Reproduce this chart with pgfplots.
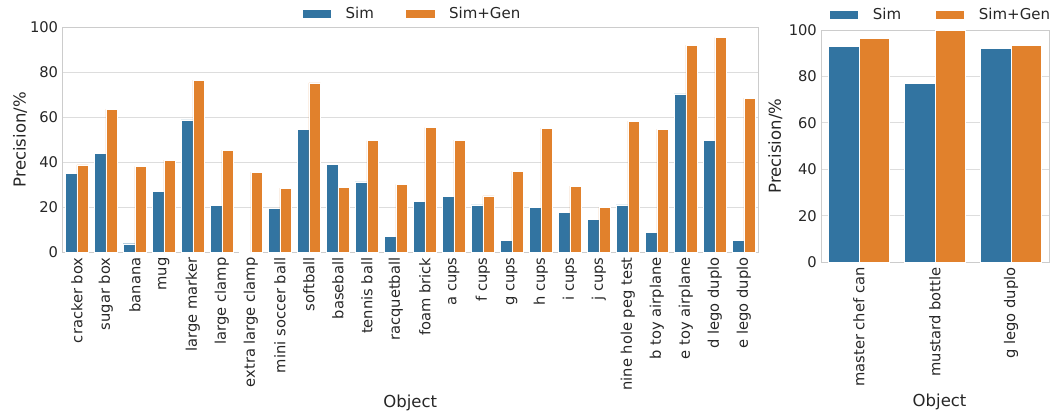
\documentclass[border=0pt]{standalone}
\usepackage{fontspec}
\setmainfont{DejaVu Sans}
\usepackage{pgfplots}
\pgfplotsset{compat=1.18}

\definecolor{simblue}{HTML}{3274A1}
\definecolor{genorange}{HTML}{E1812C}
\definecolor{gridgrey}{HTML}{DDDDDD}
\definecolor{spinegrey}{HTML}{CCCCCC}
\definecolor{textgrey}{HTML}{262626}

\newcommand{\tickfont}{\fontsize{14.7}{17}\selectfont}
\newcommand{\labfont}{\fontsize{16.5}{19}\selectfont}
\newcommand{\legfont}{\fontsize{15}{17}\selectfont}

\pgfplotsset{
  panel/.style={
    scale only axis,
    ymin=0, ymax=100,
    ytick={0,20,40,60,80,100},
    ymajorgrids,
    grid style={gridgrey, line width=0.9pt},
    axis line style={spinegrey, line width=0.9pt},
    major tick length=0pt,
    tick label style={font=\tickfont, text=textgrey},
    label style={font=\labfont, text=textgrey},
    /pgf/number format/assume math mode=true,
    yticklabel style={anchor=east, inner sep=0pt},
    yticklabel shift=4pt,
    xticklabel style={rotate=90, anchor=east, inner sep=0pt},
    xticklabel shift=5pt,
    ylabel={Precision/\%},
    xlabel={Object},
    ybar,
    bar width=0.4,
    legend columns=2,
    legend style={draw=none, fill=none, inner sep=0pt, font=\legfont, text=textgrey,
      nodes={inner sep=0pt},
      /tikz/every odd column/.append style={column sep=14pt},
      /tikz/every even column/.append style={column sep=31.5pt}},
    legend image code/.code={\fill[##1] (0pt,-4.3pt) rectangle (29.3pt,4.3pt);},
  },
  sim/.style={fill=simblue, draw=white, line width=0.4pt, bar shift=-0.2},
  gen/.style={fill=genorange, draw=white, line width=0.4pt, bar shift=0.2},
}

\begin{document}
\begin{tikzpicture}[x=1pt, y=1pt]
\useasboundingbox (0,0) rectangle (1052,415);

% Left panel: per-object precision
\begin{axis}[panel,
  at={(62.3pt,162.7pt)}, anchor=south west,
  width=696pt, height=225.3pt,
  xmin=-0.5, xmax=23.5,
  xtick={0,...,23},
  xticklabels={cracker box, sugar box, banana, mug, large marker, large clamp,
    extra large clamp, mini soccer ball, softball, baseball, tennis ball,
    racquetball, foam brick, a cups, f cups, g cups, h cups, i cups, j cups,
    nine hole peg test, b toy airplane, e toy airplane, d lego duplo, e lego duplo},
  ylabel style={at={(axis description cs:-0.0605,0.5)}, anchor=center},
  xlabel style={at={(axis description cs:0.5,-0.667)}, anchor=center},
  legend style={at={(axis description cs:0.344,1.06)}, anchor=west},
]
\addplot[sim] coordinates {
  (0,34.9) (1,44.0) (2,3.8) (3,26.9) (4,58.8) (5,20.7) (6,0) (7,19.5)
  (8,54.7) (9,39.0) (10,31.3) (11,7.1) (12,22.7) (13,24.8) (14,21.0)
  (15,5.2) (16,19.9) (17,17.7) (18,14.6) (19,21.0) (20,8.9) (21,70.3)
  (22,49.6) (23,5.2)};
\addplot[gen] coordinates {
  (0,38.8) (1,63.5) (2,38.1) (3,40.9) (4,76.4) (5,45.3) (6,35.6) (7,28.5)
  (8,75.2) (9,28.8) (10,49.6) (11,30.1) (12,55.5) (13,49.8) (14,25.0)
  (15,36.0) (16,55.1) (17,29.4) (18,19.9) (19,58.2) (20,54.7) (21,91.9)
  (22,95.4) (23,68.4)};
\legend{Sim, Sim+Gen}
\end{axis}

% Right panel: YCB objects
\begin{axis}[panel,
  at={(821pt,152.7pt)}, anchor=south west,
  width=228pt, height=232.3pt,
  xmin=-0.5, xmax=2.5,
  xtick={0,1,2},
  xticklabels={master chef can, mustard bottle, g lego duplo},
  ylabel style={at={(axis description cs:-0.20,0.5)}, anchor=center},
  xlabel style={at={(axis description cs:0.52,-0.603)}, anchor=center},
  legend style={at={(axis description cs:0.035,1.065)}, anchor=west,
    /tikz/every even column/.append style={column sep=34pt}},
]
\addplot[sim] coordinates {(0,93.1) (1,77.0) (2,92.0)};
\addplot[gen] coordinates {(0,96.4) (1,99.9) (2,93.5)};
\legend{Sim, Sim+Gen}
\end{axis}
\end{tikzpicture}
\end{document}
